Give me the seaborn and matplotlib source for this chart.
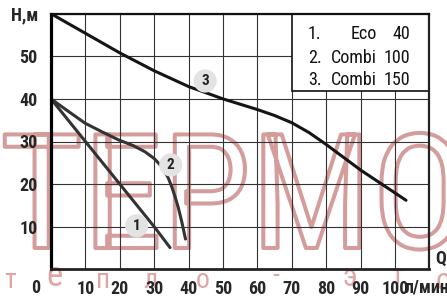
import matplotlib
matplotlib.use("Agg")
import matplotlib.pyplot as plt
import matplotlib.patheffects as pe
from matplotlib.patches import Rectangle
import seaborn as sns
import pandas as pd

# ---- data ----
eco40_q = [0, 10, 20, 30, 34.6]
eco40_h = [40, 30, 20, 10, 5.1]

combi100_q = [0, 5, 9.9, 15, 19.6, 24, 27.3, 30, 32.2, 34, 35, 36, 37, 38, 39.1]
combi100_h = [40, 37.1, 34.3, 32.2, 30.4, 29.0, 27.6, 26.0, 24.1, 21.6, 19.6, 17.2, 14.5, 11.2, 7.1]

combi150_q = [0, 10, 20, 30, 40, 50, 60, 65, 70, 75, 80, 85, 90, 98, 103.2]
combi150_h = [60, 55.4, 50.8, 46.6, 42.9, 40.0, 37.5, 36.1, 34.4, 32.1, 29.3, 26.3, 23.3, 19.0, 16.2]

legend_nums = ["1.", "2.", "3."]
legend_names = ["Eco", "Combi", "Combi"]
legend_models = ["40", "100", "150"]
badge_labels = ["1", "2", "3"]
badge_q = [24.9, 34.8, 44.8]
badge_h = [10.2, 24.5, 44.2]

x_ticks = [0, 10, 20, 30, 40, 50, 60, 70, 80, 90, 100]
x_labels = ["", "10", "20", "30", "40", "50", "60", "70", "80", "90", "100"]
y_ticks = [10, 20, 30, 40, 50, 60]
y_labels = ["10", "20", "30", "40", "50", "H,м"]

sns.set_theme(style="white")
NARROW = ["Liberation Sans Narrow", "Roboto Condensed", "PT Sans Narrow", "Liberation Sans", "DejaVu Sans"]
plt.rcParams["font.family"] = NARROW

fig = plt.figure(figsize=(4.47, 2.99), dpi=100)
fig.patch.set_facecolor("white")
ax = fig.add_axes([51 / 447, 1 - 269.3 / 299, (429.4 - 51) / 447, (269.3 - 13.7) / 299])
ax.set_facecolor("none")

# watermark (under everything)
wm = "#d59c9c"
fig.text(0 / 447, 1 - 248 / 299, "ТЕРМО", fontsize=115, color="none", family=NARROW,
         ha="left", va="baseline", zorder=-5,
         path_effects=[pe.Stroke(linewidth=2.9, foreground=wm)])
small = [("т", 10, 280, 20), ("е", 55, 276, 25), ("п", 103, 280, 20), ("л", 150, 280, 20),
         ("о", 203, 281, 20), ("-", 276, 276, 20), ("э", 350, 277, 22), ("т", 397, 277, 20),
         ("о", 443, 282, 22)]
for ch, px, py, fs in small:
    fig.text(px / 447, 1 - py / 299, ch, fontsize=fs, color="#e0a6a6", ha="center",
             va="center", zorder=-5, family=NARROW)

# curves
frames = []
for name, q, h in [("1", eco40_q, eco40_h), ("2", combi100_q, combi100_h), ("3", combi150_q, combi150_h)]:
    frames.append(pd.DataFrame({"Q": q, "H": h, "pump": name}))
df = pd.concat(frames, ignore_index=True)
sns.lineplot(data=df, x="Q", y="H", hue="pump", sort=False, estimator=None,
             palette={"1": "#333333", "2": "#333333", "3": "#151515"},
             linewidth=2.2, legend=False, ax=ax, zorder=3)

ax.set_xlim(0, 110)
ax.set_ylim(0, 60)
ax.set_xticks(x_ticks)
ax.set_xticklabels(x_labels)
ax.set_yticks(y_ticks)
ax.set_yticklabels(y_labels)
ax.set_xlabel("")
ax.set_ylabel("")
ax.set_xticks([110], minor=True)
ax.tick_params(axis="both", which="both", length=0, labelsize=13, labelcolor="#262626")
ax.tick_params(axis="x", pad=7.5)
ax.tick_params(axis="y", pad=9.5)
for lab in ax.get_xticklabels() + ax.get_yticklabels():
    lab.set_fontweight("bold")

ax.grid(True, which="major", color="#333333", linewidth=0.8)
ax.xaxis.grid(True, which="minor", color="#333333", linewidth=0.8)
ax.set_axisbelow(True)

for side, lw, col in [("left", 2.3, "#000000"), ("bottom", 2.0, "#222222"),
                      ("right", 1.6, "#222222"), ("top", 1.6, "#111111")]:
    ax.spines[side].set_visible(True)
    ax.spines[side].set_linewidth(lw)
    ax.spines[side].set_color(col)
    ax.spines[side].set_zorder(5)

# legend box
ax.add_patch(Rectangle((70, 41.9), 40, 18.1, facecolor="white", edgecolor="#111111",
                       linewidth=1.2, zorder=2.5))
for i, yb in enumerate([54.0, 48.4, 43.2]):
    ax.text(74.7, yb, legend_nums[i], fontsize=13, ha="left", va="baseline", color="#111111", zorder=4)
    ax.text(94.8, yb, legend_names[i], fontsize=13, ha="right", va="baseline", color="#111111", zorder=4)
    ax.text(104.4, yb, legend_models[i], fontsize=13, ha="right", va="baseline", color="#111111", zorder=4)

# curve badges
for lab, q, h in zip(badge_labels, badge_q, badge_h):
    ax.text(q, h, lab, fontsize=11, fontweight="bold", ha="center", va="center", color="#222222",
            zorder=4, bbox=dict(boxstyle="circle,pad=0.3", facecolor="#e3e3e3", edgecolor="none"))

# extra axis texts
ax.annotate("0", xy=(0, 0), xytext=(-15.5, -9.4), textcoords="offset pixels", ha="center", va="top",
            fontsize=13, fontweight="bold", color="#262626", annotation_clip=False)
ax.annotate("л/мин", xy=(100, 0), xytext=(10, -9.4), textcoords="offset pixels", ha="left", va="top",
            fontsize=13, fontweight="bold", color="#262626", annotation_clip=False)
ax.annotate("Q", xy=(110, 0), xytext=(5.5, 1.5), textcoords="offset pixels", ha="left", va="bottom",
            fontsize=13, fontweight="bold", color="#262626", annotation_clip=False)

fig.savefig("out.png", dpi=100, facecolor="white")
